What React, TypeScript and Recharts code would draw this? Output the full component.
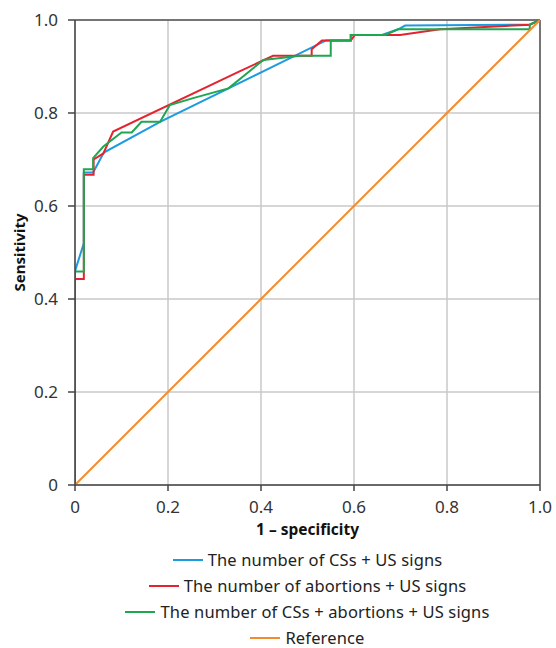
import React from 'react';
import {
  LineChart,
  Line,
  XAxis,
  YAxis,
  CartesianGrid,
  Legend,
  ReferenceLine,
  Label,
} from 'recharts';

const FONT = '"Noto Sans", sans-serif';

const axisTicks = [0, 0.2, 0.4, 0.6, 0.8, 1];

// The number of CSs + US signs
const csUsFpr = [0, 0, 0.019, 0.019, 0.039, 0.062, 0.183, 0.54, 0.593, 0.593, 0.66, 0.695, 0.71, 0.978, 1];
const csUsTpr = [0, 0.46, 0.52, 0.672, 0.672, 0.715, 0.781, 0.956, 0.956, 0.968, 0.968, 0.98, 0.988, 0.99, 1];

// The number of abortions + US signs
const abUsFpr = [0, 0, 0.019, 0.019, 0.04, 0.04, 0.061, 0.082, 0.355, 0.426, 0.509, 0.509, 0.531, 0.593, 0.602, 0.699, 0.785, 0.978, 1];
const abUsTpr = [0, 0.443, 0.443, 0.667, 0.667, 0.7, 0.713, 0.76, 0.89, 0.923, 0.923, 0.937, 0.956, 0.956, 0.968, 0.968, 0.98, 0.99, 1];

// The number of CSs + abortions + US signs
const csAbUsFpr = [0, 0, 0.019, 0.019, 0.039, 0.039, 0.061, 0.1, 0.122, 0.143, 0.183, 0.204, 0.254, 0.33, 0.405, 0.484, 0.55, 0.55, 0.593, 0.593, 0.667, 0.695, 0.978, 0.978, 1];
const csAbUsTpr = [0, 0.459, 0.459, 0.679, 0.679, 0.703, 0.728, 0.758, 0.758, 0.781, 0.781, 0.817, 0.832, 0.853, 0.914, 0.923, 0.923, 0.956, 0.956, 0.968, 0.968, 0.98, 0.98, 0.99, 1];

// Reference
const refFpr = [0, 1];
const refTpr = [0, 1];

const zip = (xs: number[], ys: number[]) => xs.map((x, i) => ({ x, y: ys[i] }));

const series = [
  { name: 'The number of CSs + US signs', color: '#1d9be0', data: zip(csUsFpr, csUsTpr) },
  { name: 'The number of abortions + US signs', color: '#e52330', data: zip(abUsFpr, abUsTpr) },
  { name: 'The number of CSs + abortions + US signs', color: '#1fa651', data: zip(csAbUsFpr, csAbUsTpr) },
  { name: 'Reference', color: '#f28d2f', data: zip(refFpr, refTpr) },
];

const fmt = (v: number) => (v === 0 ? '0' : v.toFixed(1));

const tickStyle = { fontSize: 17, fill: '#333', fontFamily: FONT };

// keep the legend in series order (recharts sorts the payload by name)
const LegendRows = () => (
  <div
    style={{
      height: 112,
      paddingTop: 16,
      boxSizing: 'border-box',
      fontFamily: FONT,
      fontSize: 16.5,
      lineHeight: '16px',
      letterSpacing: 0.15,
      color: '#222',
    }}
  >
    {series.map((s, i) => (
      <div
        key={s.name}
        style={{
          display: 'flex',
          alignItems: 'center',
          justifyContent: 'center',
          height: 16,
          marginBottom: i < series.length - 1 ? 10.1 : 0,
          whiteSpace: 'nowrap',
        }}
      >
        <span style={{ display: 'inline-block', width: 30, height: 2, background: s.color, marginRight: 5 }} />
        <span>{s.name}</span>
      </div>
    ))}
  </div>
);

const YTitle = (props: any) => {
  const { x, y, height } = props.viewBox;
  const cx = x + 19;
  const cy = y + height / 2;
  return (
    <text
      x={cx}
      y={cy}
      transform={`rotate(-90, ${cx}, ${cy})`}
      textAnchor="middle"
      dominantBaseline="central"
      fontFamily={FONT}
      fontSize={15}
      fontWeight={700}
      fill="#111"
    >
      Sensitivity
    </text>
  );
};

const XTitle = (props: any) => {
  const { x, y, width } = props.viewBox;
  return (
    <text
      x={x + width / 2}
      y={y + 44}
      textAnchor="middle"
      dominantBaseline="central"
      fontFamily={FONT}
      fontSize={15.5}
      fontWeight={700}
      fill="#111"
    >
      1 – specificity
    </text>
  );
};

export default function App() {
  return (
    <div style={{ position: 'absolute', left: 0, top: 0, background: '#fff' }}>
      <LineChart width={556} height={648} margin={{ top: 20, right: 16, bottom: 0, left: 0 }}>
        <CartesianGrid stroke="#c9c9c9" strokeWidth={1.5} />
        <XAxis
          dataKey="x"
          type="number"
          domain={[0, 1]}
          ticks={axisTicks}
          tickFormatter={fmt}
          height={51}
          tickSize={6}
          tickMargin={10}
          tick={tickStyle}
          stroke="#444"
          strokeWidth={1.5}
          allowDataOverflow
        >
          <Label content={XTitle} />
        </XAxis>
        <YAxis
          dataKey="y"
          type="number"
          domain={[0, 1]}
          ticks={axisTicks}
          tickFormatter={fmt}
          width={75}
          tickSize={7}
          tickMargin={10}
          tick={tickStyle}
          stroke="#444"
          strokeWidth={1.5}
          allowDataOverflow
        >
          <Label content={YTitle} />
        </YAxis>
        <ReferenceLine y={1} stroke="#555" strokeWidth={1.5} />
        <ReferenceLine x={1} stroke="#555" strokeWidth={1.5} />
        {series.map(s => (
          <Line
            key={s.name}
            name={s.name}
            data={s.data}
            dataKey="y"
            type="linear"
            stroke={s.color}
            strokeWidth={2}
            dot={false}
            activeDot={false}
            isAnimationActive={false}
          />
        ))}
        <Legend
          verticalAlign="bottom"
          content={LegendRows}
          wrapperStyle={{ left: 75, width: 465 }}
        />
      </LineChart>
    </div>
  );
}
